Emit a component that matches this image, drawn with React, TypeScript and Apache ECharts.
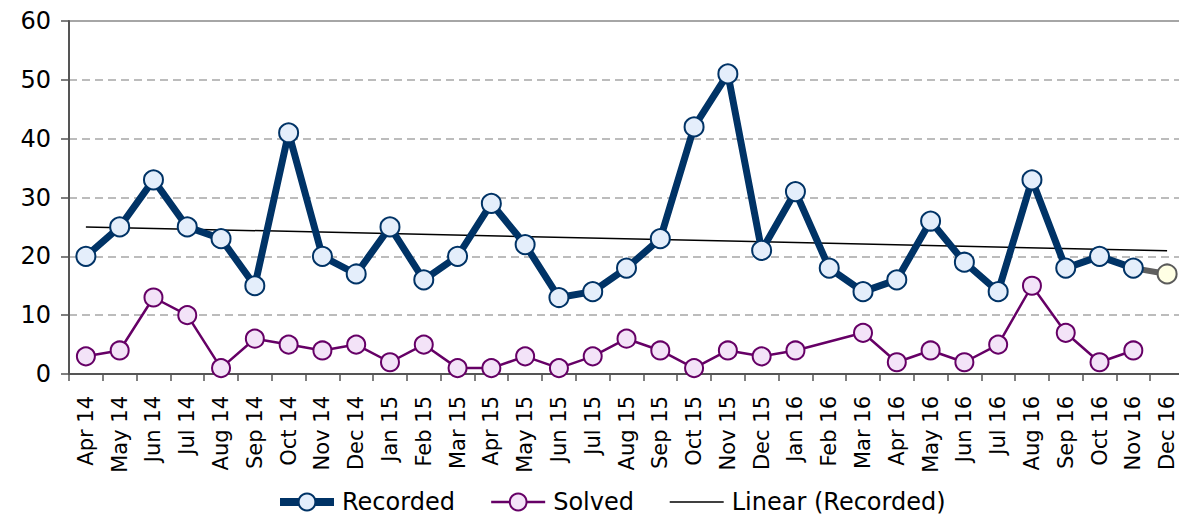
import React, { useEffect, useRef } from "react";
import * as echarts from "echarts";

const months = [
  "Apr 14", "May 14", "Jun 14", "Jul 14", "Aug 14", "Sep 14", "Oct 14", "Nov 14", "Dec 14",
  "Jan 15", "Feb 15", "Mar 15", "Apr 15", "May 15", "Jun 15", "Jul 15", "Aug 15", "Sep 15",
  "Oct 15", "Nov 15", "Dec 15", "Jan 16", "Feb 16", "Mar 16", "Apr 16", "May 16", "Jun 16",
  "Jul 16", "Aug 16", "Sep 16", "Oct 16", "Nov 16", "Dec 16",
];

const recorded = [
  20, 25, 33, 25, 23, 15, 41, 20, 17,
  25, 16, 20, 29, 22, 13, 14, 18, 23,
  42, 51, 21, 31, 18, 14, 16, 26, 19,
  14, 33, 18, 20, 18, 17,
];

const solved: (number | null)[] = [
  3, 4, 13, 10, 1, 6, 5, 4, 5,
  2, 5, 1, 1, 3, 1, 3, 6, 4,
  1, 4, 3, 4, null, 7, 2, 4, 2,
  5, 15, 7, 2, 4, null,
];

const trendStart = 25.0;
const trendEnd = 20.95;

const yTicks = [0, 10, 20, 30, 40, 50, 60];

const FONT = "DejaVu Sans";

export default function App() {
  const ref = useRef<HTMLDivElement>(null);

  useEffect(() => {
    if (!ref.current) return;
    const chart = echarts.init(ref.current, undefined, { renderer: "svg" });
    const last = recorded.length - 1;
    const mainData = recorded.map((v, i) => (i < last ? v : null));
    const tailData = recorded.map((v, i) => {
      if (i === last - 1) return { value: v, symbol: "none" };
      if (i === last) return v;
      return null;
    });
    chart.setOption({
      animation: false,
      textStyle: { fontFamily: FONT },
      grid: {
        left: 69,
        top: 21,
        width: 1115,
        height: 353,
        show: true,
        borderColor: "#a6a6a6",
        borderWidth: 2,
        outerBoundsMode: "none",
        containLabel: false,
      },
      legend: {
        data: [
          { name: "Recorded", lineStyle: { width: 8 } },
          { name: "Solved", lineStyle: { width: 2.5 } },
          { name: "Linear (Recorded)", itemStyle: { opacity: 0 }, lineStyle: { width: 1.5 } },
        ],
        left: 271,
        top: 485,
        itemWidth: 54,
        itemHeight: 21,
        itemGap: 35,
        textStyle: { fontFamily: FONT, fontSize: 24, color: "#000", padding: [0, 0, 0, 3] },
      },
      xAxis: {
        type: "category",
        data: months,
        boundaryGap: true,
        axisLine: { lineStyle: { color: "#555", width: 2 } },
        axisTick: { show: true, length: 7, alignWithLabel: false, lineStyle: { color: "#555", width: 1.5 } },
        axisLabel: {
          rotate: 90,
          interval: 0,
          margin: 22,
          fontSize: 21,
          fontFamily: FONT,
          color: "#000",
        },
        splitLine: { show: false },
      },
      yAxis: {
        type: "value",
        min: yTicks[0],
        max: yTicks[yTicks.length - 1],
        interval: 10,
        axisLine: { show: true, lineStyle: { color: "#555", width: 2 } },
        axisTick: { show: true, length: 8, lineStyle: { color: "#555", width: 1.5 } },
        axisLabel: { fontSize: 24, margin: 18, color: "#000", fontFamily: FONT },
        splitLine: { show: true, lineStyle: { color: "#a6a6a6", type: [8, 5], width: 1.5 } },
      },
      series: [
        {
          name: "Recorded tail",
          type: "line",
          data: tailData,
          z: 1,
          symbol: "circle",
          symbolSize: 19,
          lineStyle: { color: "#5f5f5f", width: 6 },
          itemStyle: { color: "#ffffe4", borderColor: "#5a5a5a", borderWidth: 2 },
        },
        {
          name: "Recorded",
          type: "line",
          data: mainData,
          z: 3,
          symbol: "circle",
          symbolSize: 19,
          lineStyle: { color: "#003366", width: 7 },
          itemStyle: { color: "#e4eefb", borderColor: "#003366", borderWidth: 2 },
        },
        {
          name: "Solved",
          type: "line",
          data: solved,
          connectNulls: true,
          z: 2,
          symbol: "circle",
          symbolSize: 18,
          lineStyle: { color: "#660066", width: 2.5 },
          itemStyle: { color: "#f3e3f8", borderColor: "#660066", borderWidth: 2 },
        },
        {
          name: "Linear (Recorded)",
          type: "line",
          data: [[0, trendStart], [months.length - 1, trendEnd]],
          z: 2,
          symbol: "none",
          lineStyle: { color: "#000", width: 1.5 },
          itemStyle: { color: "#000" },
        },
      ],
    });
    return () => chart.dispose();
  }, []);

  return (
    <div
      ref={ref}
      style={{ position: "fixed", left: 0, top: 0, width: 1200, height: 515, background: "#fff" }}
    />
  );
}
